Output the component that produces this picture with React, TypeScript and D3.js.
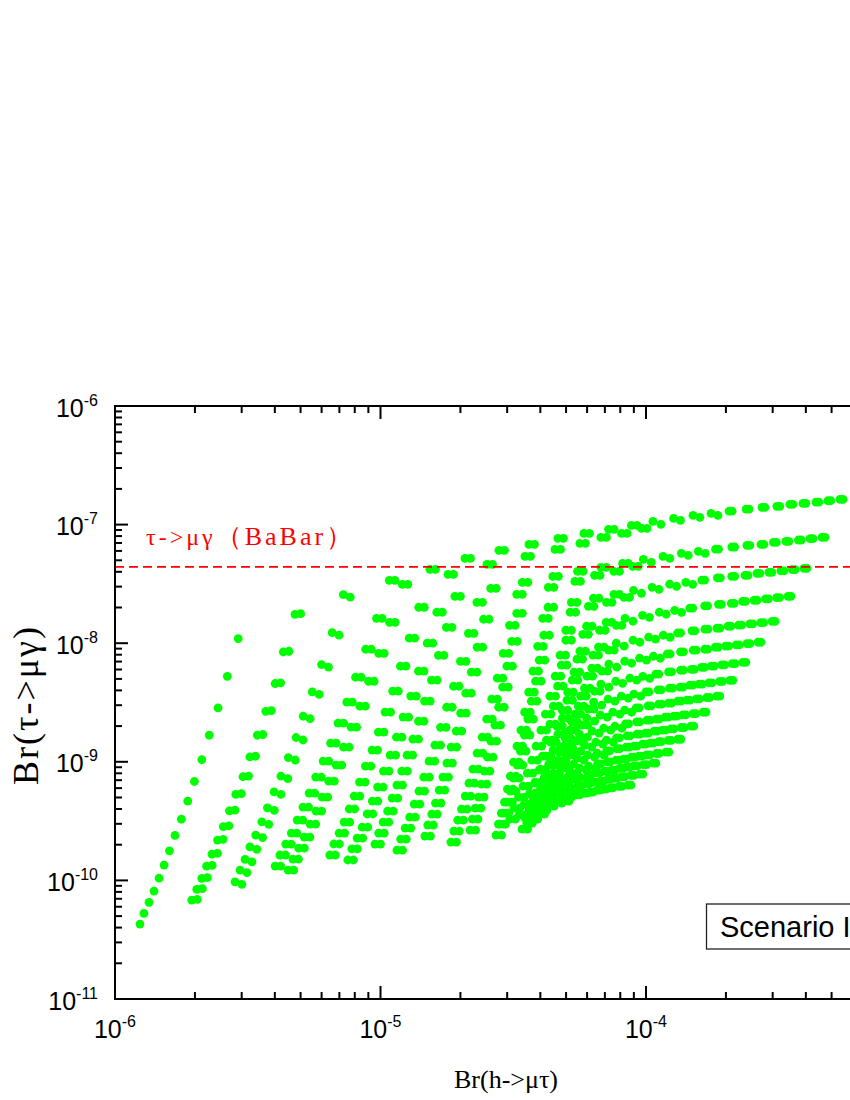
import React, { useEffect, useRef } from "react";
import * as d3 from "d3";

// scan points, stored as log10 values
// x = log10 Br(h->mu tau), y = log10 Br(tau->mu gamma); each chain is one x array + one y array
// "b" chains are the displaced partner chains; "c"/"d" are the close twins of "a"/"b"
const ray01x = [-5.906, -5.891, -5.872, -5.853, -5.834, -5.815, -5.795, -5.774, -5.750, -5.726, -5.701, -5.673, -5.645, -5.612, -5.577, -5.536];
const ray01y = [-10.368, -10.278, -10.185, -10.090, -9.981, -9.871, -9.751, -9.621, -9.484, -9.332, -9.166, -8.982, -8.776, -8.546, -8.279, -7.961];
const ray02x = [-5.711, -5.692, -5.673, -5.655, -5.635, -5.614, -5.592, -5.569, -5.545, -5.518, -5.492, -5.464, -5.432, -5.397, -5.366, -5.322];
const ray02y = [-10.166, -10.076, -9.983, -9.880, -9.778, -9.660, -9.547, -9.414, -9.275, -9.126, -8.959, -8.776, -8.574, -8.340, -8.074, -7.757];
const ray02bx = [-5.690, -5.671, -5.652, -5.634, -5.614, -5.593, -5.571, -5.548, -5.524, -5.497, -5.471, -5.443, -5.411, -5.376, -5.345, -5.301];
const ray02by = [-10.160, -10.070, -9.977, -9.874, -9.772, -9.654, -9.541, -9.408, -9.269, -9.120, -8.953, -8.770, -8.568, -8.334, -8.068, -7.751];
const ray03x = [-5.548, -5.529, -5.510, -5.492, -5.470, -5.447, -5.426, -5.401, -5.375, -5.347, -5.318, -5.291, -5.257, -5.222, -5.182, -5.140];
const ray03y = [-10.012, -9.913, -9.823, -9.717, -9.618, -9.506, -9.388, -9.254, -9.121, -8.964, -8.795, -8.616, -8.411, -8.180, -7.911, -7.591];
const ray03bx = [-5.522, -5.503, -5.484, -5.466, -5.444, -5.421, -5.400, -5.375, -5.349, -5.321, -5.292, -5.265, -5.231, -5.196, -5.156, -5.114];
const ray03by = [-10.033, -9.934, -9.844, -9.738, -9.639, -9.527, -9.409, -9.275, -9.142, -8.985, -8.816, -8.637, -8.432, -8.201, -7.932, -7.612];

const ray04x = [-5.397, -5.379, -5.357, -5.336, -5.314, -5.292, -5.269, -5.244, -5.216, -5.188, -5.160, -5.127, -5.094, -5.056, -5.015, -4.967];
const ray04cx = [-5.376, -5.358, -5.336, -5.315, -5.293, -5.271, -5.248, -5.223, -5.195, -5.167, -5.139, -5.106, -5.073, -5.035, -4.994, -4.946];
const ray04y = [-9.879, -9.786, -9.694, -9.601, -9.491, -9.382, -9.264, -9.129, -8.994, -8.843, -8.674, -8.497, -8.287, -8.051, -7.790, -7.470];
const ray04bx = [-5.348, -5.330, -5.308, -5.287, -5.265, -5.243, -5.220, -5.195, -5.167, -5.139, -5.111, -5.078, -5.045, -5.007, -4.966, -4.918];
const ray04dx = [-5.327, -5.309, -5.287, -5.266, -5.244, -5.222, -5.199, -5.174, -5.146, -5.118, -5.090, -5.057, -5.024, -4.986, -4.945, -4.897];
const ray04by = [-9.913, -9.820, -9.728, -9.635, -9.525, -9.416, -9.298, -9.163, -9.028, -8.877, -8.708, -8.531, -8.321, -8.085, -7.824, -7.504];

const ray05x = [-5.191, -5.176, -5.156, -5.137, -5.118, -5.099, -5.079, -5.057, -5.032, -5.008, -4.983, -4.954, -4.925, -4.892, -4.856, -4.814];
const ray05cx = [-5.170, -5.155, -5.135, -5.116, -5.097, -5.078, -5.058, -5.036, -5.011, -4.987, -4.962, -4.933, -4.904, -4.871, -4.835, -4.793];
const ray05y = [-9.786, -9.693, -9.601, -9.508, -9.398, -9.289, -9.171, -9.036, -8.901, -8.750, -8.581, -8.404, -8.194, -7.958, -7.697, -7.377];
const ray05bx = [-5.123, -5.108, -5.088, -5.069, -5.050, -5.031, -5.011, -4.989, -4.964, -4.940, -4.915, -4.886, -4.857, -4.824, -4.788, -4.746];
const ray05dx = [-5.102, -5.087, -5.067, -5.048, -5.029, -5.010, -4.990, -4.968, -4.943, -4.919, -4.894, -4.865, -4.836, -4.803, -4.767, -4.725];
const ray05by = [-9.828, -9.735, -9.643, -9.550, -9.440, -9.331, -9.213, -9.078, -8.943, -8.792, -8.623, -8.446, -8.236, -8.000, -7.739, -7.419];

const ray06x = [-5.021, -5.007, -4.990, -4.973, -4.956, -4.938, -4.920, -4.900, -4.878, -4.857, -4.834, -4.808, -4.782, -4.752, -4.720, -4.682];
const ray06cx = [-5.000, -4.986, -4.969, -4.952, -4.935, -4.917, -4.899, -4.879, -4.857, -4.836, -4.813, -4.787, -4.761, -4.731, -4.699, -4.661];
const ray06y = [-9.694, -9.601, -9.509, -9.416, -9.306, -9.197, -9.079, -8.944, -8.809, -8.658, -8.489, -8.312, -8.102, -7.866, -7.605, -7.285];
const ray06bx = [-4.938, -4.924, -4.907, -4.890, -4.873, -4.855, -4.837, -4.817, -4.795, -4.774, -4.751, -4.725, -4.699, -4.669, -4.637, -4.599];
const ray06dx = [-4.917, -4.903, -4.886, -4.869, -4.852, -4.834, -4.816, -4.796, -4.774, -4.753, -4.730, -4.704, -4.678, -4.648, -4.616, -4.578];
const ray06by = [-9.745, -9.652, -9.560, -9.467, -9.357, -9.248, -9.130, -8.995, -8.860, -8.709, -8.540, -8.363, -8.153, -7.917, -7.656, -7.336];

const ray07x = [-4.833, -4.822, -4.807, -4.793, -4.779, -4.765, -4.750, -4.734, -4.715, -4.698, -4.679, -4.658, -4.636, -4.612, -4.585, -4.554];
const ray07cx = [-4.812, -4.801, -4.786, -4.772, -4.758, -4.744, -4.729, -4.713, -4.694, -4.677, -4.658, -4.637, -4.615, -4.591, -4.564, -4.533];
const ray07y = [-9.626, -9.533, -9.441, -9.348, -9.238, -9.129, -9.011, -8.876, -8.741, -8.590, -8.421, -8.244, -8.034, -7.798, -7.537, -7.217];
const ray07bx = [-4.735, -4.724, -4.709, -4.695, -4.681, -4.667, -4.652, -4.636, -4.617, -4.600, -4.581, -4.560, -4.538, -4.514, -4.487, -4.456];
const ray07dx = [-4.714, -4.703, -4.688, -4.674, -4.660, -4.646, -4.631, -4.615, -4.596, -4.579, -4.560, -4.539, -4.517, -4.493, -4.466, -4.435];
const ray07by = [-9.677, -9.584, -9.492, -9.399, -9.289, -9.180, -9.062, -8.927, -8.792, -8.641, -8.472, -8.295, -8.085, -7.849, -7.588, -7.268];

const ray08x = [-4.663, -4.654, -4.643, -4.631, -4.620, -4.609, -4.597, -4.584, -4.569, -4.555, -4.540, -4.524, -4.506, -4.487, -4.466, -4.441];
const ray08cx = [-4.642, -4.633, -4.622, -4.610, -4.599, -4.588, -4.576, -4.563, -4.548, -4.534, -4.519, -4.503, -4.485, -4.466, -4.445, -4.420];
const ray08y = [-9.576, -9.483, -9.391, -9.298, -9.188, -9.079, -8.961, -8.826, -8.691, -8.540, -8.371, -8.194, -7.984, -7.748, -7.487, -7.167];
const ray08bx = [-4.565, -4.556, -4.545, -4.533, -4.522, -4.511, -4.499, -4.486, -4.471, -4.457, -4.442, -4.426, -4.408, -4.389, -4.368, -4.343];
const ray08dx = [-4.544, -4.535, -4.524, -4.512, -4.501, -4.490, -4.478, -4.465, -4.450, -4.436, -4.421, -4.405, -4.387, -4.368, -4.347, -4.322];
const ray08by = [-9.618, -9.525, -9.433, -9.340, -9.230, -9.121, -9.003, -8.868, -8.733, -8.582, -8.413, -8.236, -8.026, -7.790, -7.529, -7.209];

const ray09x = [-4.550, -4.538, -4.524, -4.511, -4.499, -4.485, -4.473, -4.458, -4.445, -4.432, -4.416, -4.402, -4.385, -4.369, -4.351, -4.332];
const ray09cx = [-4.529, -4.517, -4.503, -4.490, -4.478, -4.464, -4.452, -4.437, -4.424, -4.411, -4.395, -4.381, -4.364, -4.348, -4.330, -4.311];
const ray09y = [-9.525, -9.432, -9.340, -9.247, -9.137, -9.028, -8.910, -8.775, -8.640, -8.489, -8.320, -8.143, -7.933, -7.697, -7.436, -7.116];
const ray09bx = [-4.467, -4.455, -4.441, -4.428, -4.416, -4.402, -4.390, -4.375, -4.362, -4.349, -4.333, -4.319, -4.302, -4.286, -4.268, -4.249];
const ray09dx = [-4.446, -4.434, -4.420, -4.407, -4.395, -4.381, -4.369, -4.354, -4.341, -4.328, -4.312, -4.298, -4.281, -4.265, -4.247, -4.228];
const ray09by = [-9.567, -9.474, -9.382, -9.289, -9.179, -9.070, -8.952, -8.817, -8.682, -8.531, -8.362, -8.185, -7.975, -7.739, -7.478, -7.158];

const ray10x = [-4.513, -4.497, -4.480, -4.463, -4.447, -4.430, -4.414, -4.396, -4.379, -4.362, -4.342, -4.324, -4.302, -4.281, -4.258, -4.234];
const ray10cx = [-4.492, -4.476, -4.459, -4.442, -4.426, -4.409, -4.393, -4.375, -4.358, -4.341, -4.321, -4.303, -4.281, -4.260, -4.237, -4.213];
const ray10y = [-9.483, -9.390, -9.298, -9.205, -9.095, -8.986, -8.868, -8.733, -8.598, -8.447, -8.278, -8.101, -7.891, -7.655, -7.394, -7.074];
const ray10bx = [-4.449, -4.433, -4.416, -4.399, -4.383, -4.366, -4.350, -4.332, -4.315, -4.298, -4.278, -4.260, -4.238, -4.217, -4.194, -4.170];
const ray10dx = [-4.428, -4.412, -4.395, -4.378, -4.362, -4.345, -4.329, -4.311, -4.294, -4.277, -4.257, -4.239, -4.217, -4.196, -4.173, -4.149];
const ray10by = [-9.517, -9.424, -9.332, -9.239, -9.129, -9.020, -8.902, -8.767, -8.632, -8.481, -8.312, -8.135, -7.925, -7.689, -7.428, -7.108];

const ray11x = [-4.478, -4.459, -4.438, -4.418, -4.398, -4.378, -4.359, -4.336, -4.316, -4.295, -4.271, -4.249, -4.224, -4.198, -4.170, -4.141];
const ray11cx = [-4.457, -4.438, -4.417, -4.397, -4.377, -4.357, -4.338, -4.315, -4.295, -4.274, -4.250, -4.228, -4.203, -4.177, -4.149, -4.120];
const ray11y = [-9.449, -9.356, -9.264, -9.171, -9.061, -8.952, -8.834, -8.699, -8.564, -8.413, -8.244, -8.067, -7.857, -7.621, -7.360, -7.040];
const ray11bx = [-4.429, -4.410, -4.389, -4.369, -4.349, -4.329, -4.310, -4.287, -4.267, -4.246, -4.222, -4.200, -4.175, -4.149, -4.121, -4.092];
const ray11dx = [-4.408, -4.389, -4.368, -4.348, -4.328, -4.308, -4.289, -4.266, -4.246, -4.225, -4.201, -4.179, -4.154, -4.128, -4.100, -4.071];
const ray11by = [-9.483, -9.390, -9.298, -9.205, -9.095, -8.986, -8.868, -8.733, -8.598, -8.447, -8.278, -8.101, -7.891, -7.655, -7.394, -7.074];

const ray12x = [-4.441, -4.419, -4.395, -4.372, -4.350, -4.326, -4.304, -4.279, -4.255, -4.232, -4.204, -4.179, -4.150, -4.121, -4.088, -4.055];
const ray12cx = [-4.420, -4.398, -4.374, -4.351, -4.329, -4.305, -4.283, -4.258, -4.234, -4.211, -4.183, -4.158, -4.129, -4.100, -4.067, -4.034];
const ray12y = [-9.416, -9.323, -9.231, -9.138, -9.028, -8.919, -8.801, -8.666, -8.531, -8.380, -8.211, -8.034, -7.824, -7.588, -7.327, -7.007];
const ray12bx = [-4.403, -4.381, -4.357, -4.334, -4.312, -4.288, -4.266, -4.241, -4.217, -4.194, -4.166, -4.141, -4.112, -4.083, -4.050, -4.017];
const ray12dx = [-4.382, -4.360, -4.336, -4.313, -4.291, -4.267, -4.245, -4.220, -4.196, -4.173, -4.145, -4.120, -4.091, -4.062, -4.029, -3.996];
const ray12by = [-9.441, -9.348, -9.256, -9.163, -9.053, -8.944, -8.826, -8.691, -8.556, -8.405, -8.236, -8.059, -7.849, -7.613, -7.352, -7.032];

const ray13x = [-4.403, -4.379, -4.352, -4.326, -4.302, -4.276, -4.251, -4.223, -4.197, -4.170, -4.140, -4.112, -4.079, -4.047, -4.010, -3.974];
const ray13y = [-9.382, -9.289, -9.197, -9.104, -8.994, -8.885, -8.767, -8.632, -8.497, -8.346, -8.177, -8.000, -7.790, -7.554, -7.293, -6.973];
const ray13bx = [-4.373, -4.349, -4.322, -4.296, -4.272, -4.246, -4.221, -4.193, -4.167, -4.140, -4.110, -4.082, -4.049, -4.017, -3.980, -3.944];
const ray13by = [-9.407, -9.314, -9.222, -9.129, -9.019, -8.910, -8.792, -8.657, -8.522, -8.371, -8.202, -8.025, -7.815, -7.579, -7.318, -6.998];
const ray14x = [-4.372, -4.345, -4.316, -4.287, -4.260, -4.231, -4.203, -4.172, -4.143, -4.114, -4.080, -4.049, -4.013, -3.977, -3.936, -3.896];
const ray14y = [-9.357, -9.264, -9.172, -9.079, -8.969, -8.860, -8.742, -8.607, -8.472, -8.321, -8.152, -7.975, -7.765, -7.529, -7.268, -6.948];
const ray14bx = [-4.346, -4.319, -4.290, -4.261, -4.234, -4.205, -4.177, -4.146, -4.117, -4.088, -4.054, -4.023, -3.987, -3.951, -3.910, -3.870];
const ray14by = [-9.374, -9.281, -9.189, -9.096, -8.986, -8.877, -8.759, -8.624, -8.489, -8.338, -8.169, -7.992, -7.782, -7.546, -7.285, -6.965];
const ray15x = [-4.343, -4.313, -4.282, -4.250, -4.220, -4.189, -4.159, -4.125, -4.093, -4.061, -4.024, -3.990, -3.950, -3.911, -3.867, -3.823];
const ray15y = [-9.331, -9.238, -9.146, -9.053, -8.943, -8.834, -8.716, -8.581, -8.446, -8.295, -8.126, -7.949, -7.739, -7.503, -7.242, -6.922];
const ray15bx = [-4.317, -4.287, -4.256, -4.224, -4.194, -4.163, -4.133, -4.099, -4.067, -4.035, -3.998, -3.964, -3.924, -3.885, -3.841, -3.797];
const ray15by = [-9.348, -9.255, -9.163, -9.070, -8.960, -8.851, -8.733, -8.598, -8.463, -8.312, -8.143, -7.966, -7.756, -7.520, -7.259, -6.939];
const ray16x = [-4.316, -4.284, -4.250, -4.216, -4.184, -4.149, -4.117, -4.080, -4.046, -4.012, -3.972, -3.935, -3.892, -3.850, -3.803, -3.755];
const ray16y = [-9.315, -9.222, -9.130, -9.037, -8.927, -8.818, -8.700, -8.565, -8.430, -8.279, -8.110, -7.933, -7.723, -7.487, -7.226, -6.906];
const ray16bx = [-4.290, -4.258, -4.224, -4.190, -4.158, -4.123, -4.091, -4.054, -4.020, -3.986, -3.946, -3.909, -3.866, -3.824, -3.777, -3.729];
const ray16by = [-9.332, -9.239, -9.147, -9.054, -8.944, -8.835, -8.717, -8.582, -8.447, -8.296, -8.127, -7.950, -7.740, -7.504, -7.243, -6.923];
const ray17x = [-4.290, -4.256, -4.219, -4.182, -4.148, -4.111, -4.077, -4.037, -4.000, -3.963, -3.920, -3.881, -3.835, -3.790, -3.738, -3.687];
const ray17bx = [-4.279, -4.245, -4.208, -4.171, -4.137, -4.100, -4.066, -4.026, -3.989, -3.952, -3.909, -3.870, -3.824, -3.779, -3.727, -3.676];
const ray17y = [-9.296, -9.203, -9.111, -9.018, -8.908, -8.799, -8.681, -8.546, -8.411, -8.260, -8.091, -7.914, -7.704, -7.468, -7.207, -6.887];
const ray18x = [-4.260, -4.224, -4.185, -4.146, -4.110, -4.071, -4.035, -3.992, -3.954, -3.915, -3.870, -3.827, -3.779, -3.731, -3.677, -3.623];
const ray18bx = [-4.249, -4.213, -4.174, -4.135, -4.099, -4.060, -4.024, -3.981, -3.943, -3.904, -3.859, -3.816, -3.768, -3.720, -3.666, -3.612];
const ray18y = [-9.278, -9.185, -9.093, -9.000, -8.890, -8.781, -8.663, -8.528, -8.393, -8.242, -8.073, -7.896, -7.686, -7.450, -7.189, -6.869];
const ray19x = [-4.233, -4.195, -4.154, -4.113, -4.075, -4.034, -3.996, -3.952, -3.911, -3.870, -3.822, -3.778, -3.727, -3.677, -3.620, -3.563];
const ray19bx = [-4.222, -4.184, -4.143, -4.102, -4.064, -4.023, -3.985, -3.941, -3.900, -3.859, -3.811, -3.767, -3.716, -3.666, -3.609, -3.552];
const ray19y = [-9.264, -9.171, -9.079, -8.986, -8.876, -8.767, -8.649, -8.514, -8.379, -8.228, -8.059, -7.882, -7.672, -7.436, -7.175, -6.855];
const ray20x = [-4.211, -4.171, -4.128, -4.085, -4.045, -4.002, -3.962, -3.915, -3.872, -3.829, -3.779, -3.733, -3.679, -3.627, -3.567, -3.507];
const ray20bx = [-4.200, -4.160, -4.117, -4.074, -4.034, -3.991, -3.951, -3.904, -3.861, -3.818, -3.768, -3.722, -3.668, -3.616, -3.556, -3.496];
const ray20y = [-9.256, -9.163, -9.071, -8.978, -8.868, -8.759, -8.641, -8.506, -8.371, -8.220, -8.051, -7.874, -7.664, -7.428, -7.167, -6.847];
const ray21x = [-4.185, -4.144, -4.099, -4.055, -4.013, -3.969, -3.928, -3.880, -3.835, -3.791, -3.739, -3.691, -3.636, -3.582, -3.520, -3.458];
const ray21bx = [-4.174, -4.133, -4.088, -4.044, -4.002, -3.958, -3.917, -3.869, -3.824, -3.780, -3.728, -3.680, -3.625, -3.571, -3.509, -3.447];
const ray21y = [-9.239, -9.146, -9.054, -8.961, -8.851, -8.742, -8.624, -8.489, -8.354, -8.203, -8.034, -7.857, -7.647, -7.411, -7.150, -6.830];
const ray22x = [-4.162, -4.119, -4.073, -4.027, -3.984, -3.938, -3.895, -3.846, -3.800, -3.754, -3.700, -3.651, -3.593, -3.537, -3.473, -3.409];
const ray22bx = [-4.151, -4.108, -4.062, -4.016, -3.973, -3.927, -3.884, -3.835, -3.789, -3.743, -3.689, -3.640, -3.582, -3.526, -3.462, -3.398];
const ray22y = [-9.230, -9.137, -9.045, -8.952, -8.842, -8.733, -8.615, -8.480, -8.345, -8.194, -8.025, -7.848, -7.638, -7.402, -7.141, -6.821];
const ray23x = [-4.136, -4.092, -4.044, -3.997, -3.953, -3.906, -3.861, -3.810, -3.763, -3.715, -3.660, -3.609, -3.550, -3.492, -3.426, -3.360];
const ray23bx = [-4.125, -4.081, -4.033, -3.986, -3.942, -3.895, -3.850, -3.799, -3.752, -3.704, -3.649, -3.598, -3.539, -3.481, -3.415, -3.349];
const ray23y = [-9.219, -9.126, -9.034, -8.941, -8.831, -8.722, -8.604, -8.469, -8.334, -8.183, -8.014, -7.837, -7.627, -7.391, -7.130, -6.810];
const ray24x = [-4.102, -4.057, -4.009, -3.961, -3.916, -3.868, -3.823, -3.771, -3.723, -3.675, -3.620, -3.568, -3.508, -3.449, -3.382, -3.315];
const ray24bx = [-4.091, -4.046, -3.998, -3.950, -3.905, -3.857, -3.812, -3.760, -3.712, -3.664, -3.609, -3.557, -3.497, -3.438, -3.371, -3.304];
const ray24y = [-9.208, -9.115, -9.023, -8.930, -8.820, -8.711, -8.593, -8.458, -8.323, -8.172, -8.003, -7.826, -7.616, -7.380, -7.119, -6.799];
const ray25x = [-4.068, -4.023, -3.974, -3.925, -3.880, -3.831, -3.785, -3.733, -3.684, -3.635, -3.578, -3.525, -3.465, -3.405, -3.337, -3.269];
const ray25bx = [-4.057, -4.012, -3.963, -3.914, -3.869, -3.820, -3.774, -3.722, -3.673, -3.624, -3.567, -3.514, -3.454, -3.394, -3.326, -3.258];
const ray25y = [-9.197, -9.104, -9.012, -8.919, -8.810, -8.700, -8.582, -8.447, -8.313, -8.161, -7.992, -7.816, -7.605, -7.369, -7.108, -6.788];

const babarLimit = 4.4e-8;
const xLabelDecades = [-6, -5, -4];
const yLabelDecades = [-11, -10, -9, -8, -7, -6];

const chains = [
  [ray01x, ray01y], [ray02x, ray02y], [ray02bx, ray02by], [ray03x, ray03y], [ray03bx, ray03by],
  [ray04x, ray04y], [ray04cx, ray04y], [ray04bx, ray04by], [ray04dx, ray04by],
  [ray05x, ray05y], [ray05cx, ray05y], [ray05bx, ray05by], [ray05dx, ray05by],
  [ray06x, ray06y], [ray06cx, ray06y], [ray06bx, ray06by], [ray06dx, ray06by],
  [ray07x, ray07y], [ray07cx, ray07y], [ray07bx, ray07by], [ray07dx, ray07by],
  [ray08x, ray08y], [ray08cx, ray08y], [ray08bx, ray08by], [ray08dx, ray08by],
  [ray09x, ray09y], [ray09cx, ray09y], [ray09bx, ray09by], [ray09dx, ray09by],
  [ray10x, ray10y], [ray10cx, ray10y], [ray10bx, ray10by], [ray10dx, ray10by],
  [ray11x, ray11y], [ray11cx, ray11y], [ray11bx, ray11by], [ray11dx, ray11by],
  [ray12x, ray12y], [ray12cx, ray12y], [ray12bx, ray12by], [ray12dx, ray12by],
  [ray13x, ray13y], [ray13bx, ray13by], [ray14x, ray14y], [ray14bx, ray14by],
  [ray15x, ray15y], [ray15bx, ray15by], [ray16x, ray16y], [ray16bx, ray16by],
  [ray17x, ray17y], [ray17bx, ray17y], [ray18x, ray18y], [ray18bx, ray18y],
  [ray19x, ray19y], [ray19bx, ray19y], [ray20x, ray20y], [ray20bx, ray20y],
  [ray21x, ray21y], [ray21bx, ray21y], [ray22x, ray22y], [ray22bx, ray22y],
  [ray23x, ray23y], [ray23bx, ray23y], [ray24x, ray24y], [ray24bx, ray24y],
  [ray25x, ray25y], [ray25bx, ray25y],
];

function App() {
  const ref = useRef<SVGSVGElement>(null);

  useEffect(() => {
    const svg = d3.select(ref.current);
    svg.selectAll("*").remove();

    const left = 115, top = 406, bottom = 999;
    const x = d3.scaleLog().domain([1e-6, 1e-3]).range([left, left + 3 * 265.5]);
    const y = d3.scaleLog().domain([1e-11, 1e-6]).range([bottom, top]);
    const right = x(1e-3);

    const points = chains.flatMap(([lx, ly]) => lx.map((v, i) => [10 ** v, 10 ** ly[i]]));

    // green scan points
    svg.append("g")
      .selectAll("circle")
      .data(points)
      .join("circle")
      .attr("cx", d => x(d[0]))
      .attr("cy", d => y(d[1]))
      .attr("r", 4.4)
      .attr("fill", "#00ff00");

    // BaBar bound
    svg.append("line")
      .attr("x1", left).attr("x2", right)
      .attr("y1", y(babarLimit)).attr("y2", y(babarLimit))
      .attr("stroke", "#ff0000")
      .attr("stroke-width", 1.6)
      .attr("stroke-dasharray", "9,5");

    const serif = "'Liberation Serif', 'Times New Roman', serif";
    const babar = svg.append("text")
      .attr("x", 146).attr("y", 545)
      .style("font-family", serif)
      .attr("fill", "#ff0000");
    babar.append("tspan").style("font-size", "24px").style("letter-spacing", "3px").text("τ->μγ");
    babar.append("tspan").style("font-size", "26px").style("letter-spacing", "3px").text("（BaBar）");

    // frame with inward ticks
    const frame = svg.append("g").attr("stroke", "#000").attr("fill", "none");
    frame.append("rect")
      .attr("x", left).attr("y", top)
      .attr("width", right - left).attr("height", bottom - top)
      .attr("stroke-width", 2);

    const isMajor = (v: number) => Math.abs(Math.log10(v) - Math.round(Math.log10(v))) < 1e-6;

    x.ticks().forEach(v => {
      const len = isMajor(v) ? 13 : 7;
      frame.append("line").attr("x1", x(v)).attr("x2", x(v)).attr("y1", bottom).attr("y2", bottom - len).attr("stroke-width", 2);
      frame.append("line").attr("x1", x(v)).attr("x2", x(v)).attr("y1", top).attr("y2", top + len).attr("stroke-width", 2);
    });
    y.ticks().forEach(v => {
      const len = isMajor(v) ? 13 : 7;
      frame.append("line").attr("x1", left).attr("x2", left + len).attr("y1", y(v)).attr("y2", y(v)).attr("stroke-width", 2);
      frame.append("line").attr("x1", right).attr("x2", right - len).attr("y1", y(v)).attr("y2", y(v)).attr("stroke-width", 2);
    });

    const sans = "'Liberation Sans', Arial, sans-serif";
    const power = (px: number, py: number, e: number, anchor: string) => {
      const t = svg.append("text")
        .attr("x", px).attr("y", py)
        .attr("text-anchor", anchor)
        .style("font-family", sans)
        .style("font-size", "25px");
      t.append("tspan").text("10");
      t.append("tspan").attr("dy", -11).style("font-size", "16px").text(String(e));
    };
    xLabelDecades.forEach(e => power(x(10 ** e), 1038, e, "middle"));
    yLabelDecades.forEach(e => power(98, y(10 ** e) + 10.5, e, "end"));

    // axis titles
    svg.append("text")
      .attr("x", 506).attr("y", 1088)
      .attr("text-anchor", "middle")
      .style("font-family", serif)
      .style("font-size", "26px")
      .text("Br(h->μτ)");

    svg.append("text")
      .attr("transform", "translate(38,705) rotate(-90)")
      .attr("text-anchor", "middle")
      .style("font-family", serif)
      .style("font-size", "36px")
      .style("letter-spacing", "2px")
      .text("Br(τ->μγ)");

    // scenario label
    svg.append("rect")
      .attr("x", 706.5).attr("y", 904)
      .attr("width", 300).attr("height", 45)
      .attr("fill", "#fff")
      .attr("stroke", "#222")
      .attr("stroke-width", 1.3);
    svg.append("text")
      .attr("x", 720).attr("y", 937)
      .style("font-family", sans)
      .style("font-size", "29px")
      .text("Scenario I");
  }, []);

  return (
    <div style={{ position: "absolute", left: 0, top: 0, width: 850, height: 1100, overflow: "hidden", background: "#fff" }}>
      <svg ref={ref} width={850} height={1100}></svg>
    </div>
  );
}

export default App;
